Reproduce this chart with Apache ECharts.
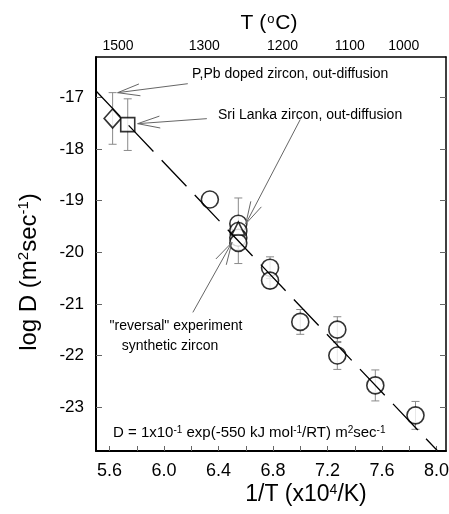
<!DOCTYPE html>
<html><head><meta charset="utf-8">
<script src="https://cdn.jsdelivr.net/npm/echarts@6/dist/echarts.min.js"></script>
<style>html,body{margin:0;padding:0;background:#fff}#c{width:449px;height:514px}</style>
</head><body><div id="c"></div>
<script>
// ---- axes ----
const xTicks = [5.6, 5.8, 6.0, 6.2, 6.4, 6.6, 6.8, 7.0, 7.2, 7.4, 7.6, 7.8, 8.0];
const xLabels = [5.6, 6.0, 6.4, 6.8, 7.2, 7.6, 8.0];
const yTicks = [-23, -22, -21, -20, -19, -18, -17];
const topLabelPos = [5.662, 6.295, 6.87, 7.363, 7.76];
const topLabelText = ['1500', '1300', '1200', '1100', '1000'];

// ---- data ----
const circX = [6.336, 6.545, 6.545, 6.545, 6.545, 6.778, 6.778, 7.0, 7.272, 7.272, 7.551, 7.846];
const circY = [-18.98, -19.45, -19.59, -19.72, -19.82, -20.30, -20.55, -21.35, -21.50, -22.0, -22.58, -23.16];
const circErr = [0, 0.5, 0, 0, 0.4, 0.21, 0.15, 0.24, 0.25, 0.27, 0.3, 0.27];
const diamondX = [5.622], diamondY = [-17.41], diamondErr = [0.5];
const squareX = [5.733], squareY = [-17.53], squareErr = [0.5];
const triX = [6.545], triY = [-19.54];
const fitX = [5.497, 8.02], fitY = [-16.87, -23.88];

// annotation arrows: [fromX, fromY] -> [tipX, tipY]
const arrowFrom = [[6.174, -16.737], [6.314, -17.414], [7.0, -17.43], [6.211, -21.166]];
const arrowTip = [[5.659, -16.911], [5.806, -17.511], [6.60, -19.45], [6.498, -19.812]];

const chart = echarts.init(document.getElementById('c'));
const FONT = 'Liberation Sans, Arial, Helvetica, sans-serif';
const zip = (a, b) => a.map((v, i) => [v, b[i]]);

const errData = []
  .concat(circX.map((x, i) => [x, circY[i], circErr[i]]))
  .concat(diamondX.map((x, i) => [x, diamondY[i], diamondErr[i]]))
  .concat(squareX.map((x, i) => [x, squareY[i], squareErr[i]]))
  .filter(d => d[2] > 0);

const arrowData = arrowFrom.map((f, i) => [f[0], f[1], arrowTip[i][0], arrowTip[i][1]]);

const markerStyle = { color: '#fff', borderColor: '#000', borderWidth: 1.6 };

chart.setOption({
  animation: false,
  backgroundColor: '#fff',
  grid: { left: 96, right: 3, top: 57, bottom: 63, outerBoundsMode: 'none' },
  xAxis: [{
    type: 'value', position: 'bottom', min: 5.5, max: 8.07,
    axisLine: { onZero: false, lineStyle: { color: '#000', width: 2 } },
    axisTick: { inside: true, length: 5, customValues: xTicks, lineStyle: { color: '#666', width: 1 } },
    axisLabel: { customValues: xLabels, formatter: v => v.toFixed(1), fontSize: 18, fontFamily: FONT, color: '#000', margin: 11 },
    splitLine: { show: false }
  }, {
    type: 'value', position: 'top', min: 5.5, max: 8.07,
    axisLine: { onZero: false, lineStyle: { color: '#000', width: 1.5 } },
    axisTick: { show: false },
    axisLabel: {
      customValues: topLabelPos,
      formatter: v => { const i = topLabelPos.findIndex(p => Math.abs(p - v) < 1e-6); return i >= 0 ? topLabelText[i] : ''; },
      fontSize: 14, fontFamily: FONT, color: '#000', margin: 4
    },
    splitLine: { show: false }
  }],
  yAxis: [{
    type: 'value', position: 'left', min: -23.85, max: -16.22,
    axisLine: { onZero: false, lineStyle: { color: '#000', width: 2 } },
    axisTick: { inside: true, length: 6, customValues: yTicks, lineStyle: { color: '#666', width: 1 } },
    axisLabel: { customValues: yTicks, fontSize: 17, fontFamily: FONT, color: '#000', margin: 12 },
    splitLine: { show: false }
  }, {
    type: 'value', position: 'right', min: -23.85, max: -16.22,
    axisLine: { onZero: false, lineStyle: { color: '#000', width: 1.5 } },
    axisTick: { inside: true, length: 6, customValues: yTicks, lineStyle: { color: '#666', width: 1 } },
    axisLabel: { show: false },
    splitLine: { show: false }
  }],
  graphic: [
    { type: 'text', x: 269, y: 23, style: { text: 'T ({sup|o}C)', font: '21px ' + FONT, fill: '#000', align: 'center', verticalAlign: 'middle',
      rich: { sup: { fontSize: 13, fontFamily: FONT, padding: [0, 1, 8, 1] } } } },
    { type: 'text', x: 306, y: 495, style: { text: '1/T (x10{sup|4}/K)', font: '23px ' + FONT, fill: '#000', align: 'center', verticalAlign: 'middle',
      rich: { sup: { fontSize: 14, fontFamily: FONT, padding: [0, 0, 9, 0] } } } },
    { type: 'text', x: 29, y: 272, rotation: Math.PI / 2, style: { text: 'log D (m{sup|2}sec{sup|-1})', font: '24px ' + FONT, fill: '#000', align: 'center', verticalAlign: 'middle',
      rich: { sup: { fontSize: 15, fontFamily: FONT, padding: [0, 0, 10, 0] } } } },
    { type: 'text', x: 192, y: 74, style: { text: 'P,Pb doped zircon, out-diffusion', font: '14px ' + FONT, fill: '#000', verticalAlign: 'middle' } },
    { type: 'text', x: 218, y: 115, style: { text: 'Sri Lanka zircon, out-diffusion', font: '14px ' + FONT, fill: '#000', verticalAlign: 'middle' } },
    { type: 'text', x: 176, y: 326, style: { text: '"reversal" experiment', font: '14px ' + FONT, fill: '#000', align: 'center', verticalAlign: 'middle' } },
    { type: 'text', x: 170, y: 346, style: { text: 'synthetic zircon', font: '14px ' + FONT, fill: '#000', align: 'center', verticalAlign: 'middle' } },
    { type: 'text', x: 113, y: 433, style: { text: 'D = 1x10{sup|-1} exp(-550 kJ mol{sup|-1}/RT) m{sup|2}sec{sup|-1}', font: '15px ' + FONT, fill: '#000', verticalAlign: 'middle',
      rich: { sup: { fontSize: 10, fontFamily: FONT, padding: [0, 0, 6, 0] } } } }
  ],
  series: [
    {
      type: 'custom', name: 'err', coordinateSystem: 'cartesian2d', z: 2, silent: true,
      data: errData,
      renderItem: (params, api) => {
        const x = api.value(0), y = api.value(1), e = api.value(2);
        const p1 = api.coord([x, y + e]), p2 = api.coord([x, y - e]);
        const w = 4, st = { stroke: '#8a8a8a', lineWidth: 1 };
        return { type: 'group', children: [
          { type: 'line', shape: { x1: p1[0], y1: p1[1], x2: p2[0], y2: p2[1] }, style: st },
          { type: 'line', shape: { x1: p1[0] - w, y1: p1[1], x2: p1[0] + w, y2: p1[1] }, style: st },
          { type: 'line', shape: { x1: p2[0] - w, y1: p2[1], x2: p2[0] + w, y2: p2[1] }, style: st }
        ] };
      }
    },
    { type: 'scatter', name: 'circles', symbol: 'circle', symbolSize: 17, z: 3, itemStyle: markerStyle, data: zip(circX, circY) },
    { type: 'scatter', name: 'diamond', symbol: 'diamond', symbolSize: [17, 19], z: 3, itemStyle: markerStyle, data: zip(diamondX, diamondY) },
    { type: 'scatter', name: 'square', symbol: 'rect', symbolSize: 14, z: 3, itemStyle: markerStyle, data: zip(squareX, squareY) },
    { type: 'scatter', name: 'triangle', symbol: 'triangle', symbolSize: 13, z: 4, itemStyle: markerStyle, data: zip(triX, triY) },
    {
      type: 'line', name: 'fit', z: 5, symbol: 'none', silent: true,
      lineStyle: { color: '#000', width: 1.3, type: [36, 12] },
      data: zip(fitX, fitY)
    },
    {
      type: 'custom', name: 'arrows', coordinateSystem: 'cartesian2d', z: 6, silent: true, clip: false,
      data: arrowData,
      renderItem: (params, api) => {
        const s = api.coord([api.value(0), api.value(1)]);
        const t = api.coord([api.value(2), api.value(3)]);
        const dx = s[0] - t[0], dy = s[1] - t[1], len = Math.hypot(dx, dy);
        const ux = dx / len, uy = dy / len, L = 23, th = 15 * Math.PI / 180;
        const arm = sgn => [t[0] + L * (ux * Math.cos(sgn * th) - uy * Math.sin(sgn * th)),
                            t[1] + L * (ux * Math.sin(sgn * th) + uy * Math.cos(sgn * th))];
        const a1 = arm(1), a2 = arm(-1);
        const st = { stroke: '#666', lineWidth: 1, fill: null };
        return { type: 'group', children: [
          { type: 'line', shape: { x1: s[0], y1: s[1], x2: t[0], y2: t[1] }, style: st },
          { type: 'polyline', shape: { points: [a1, t, a2] }, style: st }
        ] };
      }
    }
  ]
});
</script></body></html>
